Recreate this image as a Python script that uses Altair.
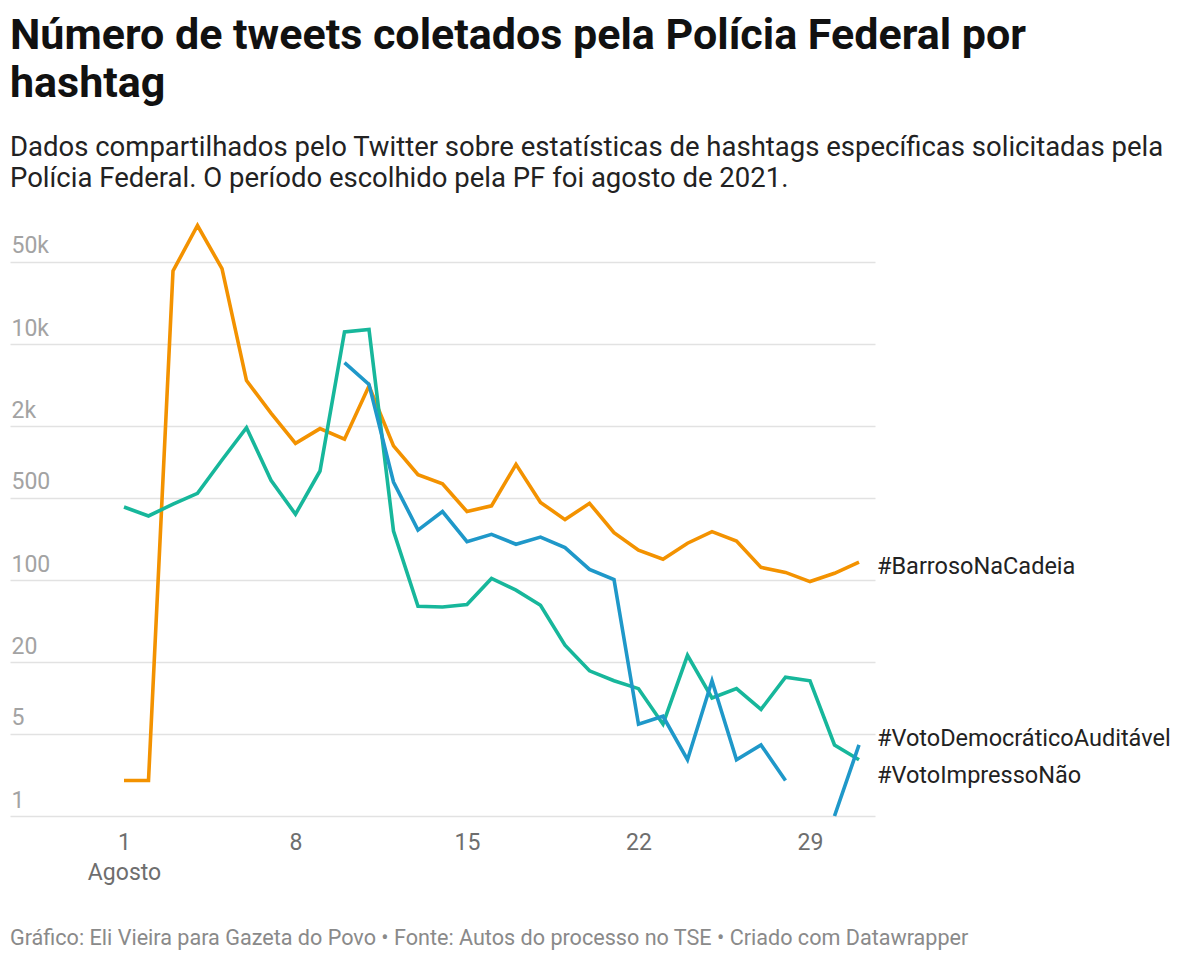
import altair as alt
import pandas as pd

days = list(range(1, 32))

barroso = [2, 2, 41600, 101000, 43500, 4900, 2600, 1440, 1920, 1560, 4400, 1370,
           780, 655, 380, 425, 955, 455, 325, 447, 252, 179, 150, 205, 257, 214,
           128, 116, 97, 114, 142]
impresso = [416, 349, 440, 543, 1040, 1955, 700, 361, 839, 12650, 13300, 260,
            60, 59, 62, 103, 82, 61, 28, 17, 14, 12, 6, 23, 10, 12, 8, 15, 14, 4, 3]
democratico = [None] * 9 + [6950, 4550, 677, 265, 380, 211, 244, 201, 231, 188,
                            123, 101, 6, 7, 3, 14, 3, 4, 2, None, 1, 4]

series_names = ["#BarrosoNaCadeia", "#VotoImpressoNão", "#VotoDemocráticoAuditável"]
series_values = [barroso, impresso, democratico]
series_colors = ["#f39200", "#17b79b", "#1f98c9"]

y_ticks = [1, 5, 20, 100, 500, 2000, 10000, 50000]
x_ticks = [1, 8, 15, 22, 29]

title_lines = ["Número de tweets coletados pela Polícia Federal por", "hashtag"]
subtitle_lines = [
    "Dados compartilhados pelo Twitter sobre estatísticas de hashtags específicas solicitadas pela",
    "Polícia Federal. O período escolhido pela PF foi agosto de 2021.",
]
footer = "Gráfico: Eli Vieira para Gazeta do Povo • Fonte: Autos do processo no TSE • Criado com Datawrapper"

rows = []
for name, vals in zip(series_names, series_values):
    for d, v in zip(days, vals):
        rows.append({"day": d, "hashtag": name, "value": v})
df = pd.DataFrame(rows)

FONT = "Roboto"

x_enc = alt.X(
    "day:Q",
    scale=alt.Scale(domain=[-3.653, 31.653], nice=False, zero=False),
    axis=alt.Axis(
        values=x_ticks, title=None, grid=False, domain=False, ticks=False,
        labelExpr="datum.value == 1 ? ['1', 'Agosto'] : datum.label",
        labelLineHeight=30, labelPadding=15, labelFontSize=23,
        labelColor="#6e6e6e", labelFont=FONT, labelFlush=False,
    ),
)
y_enc = alt.Y(
    "value:Q",
    scale=alt.Scale(type="log", domain=[1, 121600], nice=False),
    axis=alt.Axis(
        values=y_ticks, title=None, grid=True, gridColor="#e2e2e2", gridWidth=1.5,
        domain=False, ticks=False, tickSize=0,
        labelExpr="datum.value >= 1000 ? format(datum.value / 1000, 'd') + 'k' : format(datum.value, 'd')",
        labelAlign="left", labelBaseline="alphabetic", labelPadding=-1,
        labelOffset=-9, labelFontSize=23, labelColor="#a3a3a3", labelFont=FONT,
        labelOverlap=False, labelBound=False,
    ),
)

color_enc = alt.Color(
    "hashtag:N",
    scale=alt.Scale(domain=series_names, range=series_colors),
    legend=None,
)

base = alt.Chart(df)

lines = base.mark_line(strokeWidth=3.6, strokeJoin="miter").encode(
    x=x_enc, y=y_enc, color=color_enc,
    detail="hashtag:N",
)

label_dy = [5, 16, -6]
label_layers = []
for name, dy in zip(series_names, label_dy):
    label_layers.append(
        base.transform_filter(
            (alt.datum.day == 31) & (alt.datum.hashtag == name)
        ).mark_text(
            align="left", baseline="middle", dx=18, dy=dy,
            fontSize=23.5, font=FONT, color="#222222",
        ).encode(x="day:Q", y="value:Q", text="hashtag:N")
    )

footer_layer = alt.Chart(pd.DataFrame({"t": [footer]})).mark_text(
    align="left", baseline="alphabetic", fontSize=21.6, font=FONT, color="#8a8a8a",
).encode(x=alt.value(0), y=alt.value(729), text="t:N")

chart = alt.layer(lines, *label_layers, footer_layer).properties(
    width=865,
    height=600,
    padding={"left": 2, "top": 6, "right": 10, "bottom": 10},
    title=alt.TitleParams(
        text=title_lines,
        subtitle=subtitle_lines,
        anchor="start",
        font=FONT, fontSize=43, fontWeight="bold", color="#111111", lineHeight=48,
        subtitleFont=FONT, subtitleFontSize=27.5, subtitleColor="#222222",
        subtitleLineHeight=31, subtitlePadding=28,
        offset=24,
    ),
).configure_view(stroke=None)

chart.save("out.html", embed_options={"renderer": "svg", "actions": False})
